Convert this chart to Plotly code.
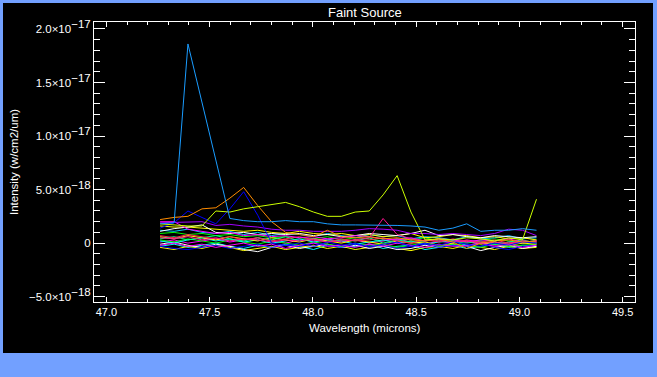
import plotly.graph_objects as go

# ---------------- data (intensity in units of 1e-18 W/cm2/um) ----------------
wavelength = [47.260, 47.328, 47.395, 47.463, 47.530, 47.598, 47.665, 47.733,
              47.800, 47.868, 47.935, 48.003, 48.070, 48.138, 48.205, 48.273,
              48.340, 48.408, 48.475, 48.543, 48.610, 48.678, 48.745, 48.813,
              48.880, 48.948, 49.015, 49.083]

x_tick_vals = [47.0, 47.5, 48.0, 48.5, 49.0, 49.5]
x_tick_text = ["47.0", "47.5", "48.0", "48.5", "49.0", "49.5"]
y_tick_vals = [-5e-18, 0, 5e-18, 1e-17, 1.5e-17, 2e-17]
SUP = "<sup><span style='font-size:11.5px'>%s</span></sup>"
y_tick_text = ["−5.0×10" + SUP % "−18", "0", "5.0×10" + SUP % "−18",
               "1.0×10" + SUP % "−17", "1.5×10" + SUP % "−17", "2.0×10" + SUP % "−17"]

green_a = [0.9, 1.0, 0.8, 0.9, 0.7, 0.8, 0.6, 0.7, 0.5, 0.6, 0.5, 0.4, 0.6, 0.3, 0.5, 0.4, 0.2, 0.4, 0.3, 0.5, 0.2, 0.3, 0.1, 0.3, 0.4, 0.2, 0.0, 0.3]
green_b = [0.3, 0.1, 0.4, 0.2, 0.0, 0.3, 0.1, -0.1, 0.2, 0.0, -0.2, 0.1, -0.1, -0.3, 0.0, -0.2, -0.1, -0.4, -0.2, 0.0, -0.3, -0.1, -0.2, -0.4, -0.1, -0.3, -0.2, -0.1]
cyan_a = [0.2, 0.0, 0.3, 0.5, 0.2, 0.4, 0.1, 0.3, 0.0, 0.2, 0.4, 0.1, 0.3, 0.2, -0.1, 0.1, 0.3, 0.0, 0.2, -0.1, 0.1, 0.2, -0.2, 0.0, 0.1, -0.1, 0.2, 0.0]
cyan_b = [-0.3, -0.1, -0.4, -0.2, 0.0, -0.3, -0.5, -0.2, -0.4, -0.1, -0.3, -0.6, -0.2, -0.4, -0.3, -0.1, -0.5, -0.3, -0.2, -0.6, -0.4, -0.2, -0.5, -0.3, -0.1, -0.4, -0.2, -0.3]
magenta_b = [0.1, 0.3, 0.0, 0.2, 0.4, 0.1, 0.3, 0.5, 0.2, 0.0, 0.3, 0.2, 0.4, 0.1, 0.3, 0.0, 0.2, 0.4, 0.1, -0.1, 0.2, 0.0, 0.3, 0.1, -0.2, 0.1, 0.0, 0.2]
magenta_c = [-0.2, 0.0, -0.3, -0.1, -0.4, -0.2, 0.0, -0.3, -0.1, -0.5, -0.2, 0.0, -0.3, -0.2, -0.4, -0.1, -0.3, 0.0, -0.2, -0.4, -0.1, -0.3, -0.2, 0.0, -0.3, -0.1, -0.4, -0.2]
yellow_b = [-0.4, -0.6, -0.3, -0.5, -0.2, -0.4, -0.7, -0.5, -0.3, -0.6, -0.4, -0.2, -0.5, -0.3, -0.6, -0.4, -0.2, -0.5, -0.7, -0.4, -0.3, -0.5, -0.2, -0.4, -0.6, -0.3, -0.5, -0.4]
yellow_c = [0.6, 0.4, 0.7, 0.5, 0.3, 0.6, 0.4, 0.2, 0.5, 0.3, 0.1, 0.4, 0.2, 0.0, 0.3, 0.1, -0.1, 0.2, 0.0, 0.1, -0.2, 0.0, 0.2, -0.1, 0.1, -0.2, 0.0, -0.1]
white_b = [-0.1, 0.1, -0.2, -0.4, -0.1, -0.3, -0.6, -0.8, -0.4, -0.2, -0.5, -0.3, -0.1, -0.4, -0.2, -0.5, -0.3, -0.6, -0.5, -0.2, -0.4, -0.1, -0.3, -0.7, -0.4, -0.2, -0.5, -0.3]
blue_low = [-0.3, -0.5, -0.6, -0.4, -0.2, -0.5, -0.3, -0.1, -0.4, -0.2, -0.3, 0.0, -0.2, -0.4, -0.1, -0.3, -0.2, -0.5, -0.3, -0.1, -0.4, -0.2, -0.3, 0.0, -0.4, -0.6, -0.3, -0.2]
spring_green = [0.4, 0.6, 0.3, 0.5, 0.7, 0.4, 0.2, 0.5, 0.3, 0.6, 0.2, 0.4, 0.1, 0.3, 0.2, 0.5, 0.0, 0.3, 0.1, 0.2, 0.4, 0.1, 0.0, 0.2, -0.1, 0.1, 0.3, 0.0]
red_a = [0.7, 0.5, 0.8, 0.6, 0.4, 0.6, 0.3, 0.5, 0.2, 0.4, 0.6, 0.3, 0.1, 0.4, 0.2, 0.3, 0.5, 0.2, 0.0, 0.3, 0.1, 0.4, 0.2, 0.1, 0.3, 0.0, 0.2, 0.1]
sky_b = [1.2, 1.1, 1.3, 1.0, 0.9, 1.1, 0.8, 1.0, 0.7, 0.9, 0.8, 0.6, 0.9, 0.7, 0.5, 0.8, 0.6, 0.7, 0.4, 0.6, 0.5, 0.3, 0.6, 0.4, 0.5, 0.7, 0.4, 0.5]
yellow_a = [1.6, 1.5, 1.5, 1.4, 1.3, 1.2, 1.1, 1.2, 1.0, 0.9, 1.1, 0.9, 0.8, 0.9, 0.7, 0.8, 0.6, 0.7, 0.9, 0.5, 0.6, 0.8, 0.7, 0.5, 0.6, 0.4, 0.5, 0.3]
white_a = [1.1, 1.35, 1.5, 1.7, 1.0, 0.9, 1.0, 0.8, 0.9, 0.8, 0.9, 0.7, 0.8, 0.6, 0.7, 0.9, 0.8, 0.7, 0.9, 1.2, 0.7, 0.8, 0.6, 0.5, 0.7, 0.6, 0.5, 0.6]
magenta_a = [2.0, 2.0, 1.3, 1.1, 0.9, 1.0, 0.7, 0.8, 0.6, 0.7, 0.5, 0.6, 0.4, 0.5, 0.7, 0.6, 0.4, 0.3, 0.5, 0.2, 0.4, 0.3, 0.1, 0.3, 0.2, 0.4, 0.1, 0.2]
pink_spike = [0.5, 0.4, 0.6, 0.3, 0.5, 0.2, 0.4, 0.3, 0.1, 0.3, 0.2, 0.4, 0.1, 0.2, 0.3, 0.5, 2.3, 0.8, 0.4, 0.2, 0.3, 0.1, 0.2, 0.0, 0.1, -0.1, 0.2, 0.1]
purple_a = [1.9, 1.95, 2.0, 2.0, 1.65, 1.75, 1.6, 1.5, 1.3, 1.2, 1.2, 1.1, 1.1, 1.1, 1.2, 1.35, 1.3, 1.2, 0.9, 0.9, 0.8, 0.9, 0.8, 0.7, 0.9, 1.3, 1.2, 0.7]
blue_bump = [1.4, 1.9, 3.0, 2.4, 1.8, 3.2, 4.8, 2.6, 0.0, -0.2, 0.0, -0.3, 0.1, -0.2, 0.0, -0.4, -0.1, 0.1, -0.3, 0.0, -0.2, 0.1, -0.1, -0.3, 0.0, -0.2, 0.1, 0.0]
orange_a = [2.2, 2.4, 2.5, 3.2, 3.3, 4.2, 5.2, 3.5, 2.0, 1.0, 0.8, 0.6, 1.2, 0.6, 0.5, 0.6, 0.4, 0.5, 0.3, 0.2, 0.4, 0.1, -0.5, 0.0, 0.2, 0.3, 0.1, 0.2]
yellow_green = [1.8, 1.7, 1.6, 1.6, 3.0, 2.9, 3.2, 3.4, 3.6, 3.8, 3.4, 2.9, 2.5, 2.5, 2.9, 3.0, 4.5, 6.3, 2.9, 0.3, 0.4, 0.3, 0.5, 0.4, 0.2, 0.5, 0.3, 4.1]
light_blue = [1.8, 1.9, 18.6, 13.2, 7.7, 2.3, 2.1, 2.0, 2.0, 2.1, 2.0, 2.0, 1.8, 1.7, 1.7, 1.7, 1.7, 1.65, 1.6, 1.5, 1.2, 1.4, 1.8, 1.1, 1.2, 1.2, 1.35, 1.2]

series = [
    (green_a, "#00ff00"), (cyan_b, "#00ffff"), (yellow_b, "#ffff00"),
    (magenta_b, "#ff00ff"), (white_b, "#ffffff"), (green_b, "#00ff00"),
    (cyan_a, "#00ffff"), (blue_low, "#0000ff"), (yellow_c, "#ffff00"),
    (magenta_c, "#ff00ff"), (spring_green, "#00ff7f"), (red_a, "#ff2050"),
    (sky_b, "#00c8ff"), (yellow_a, "#ffff00"), (white_a, "#ffffff"),
    (magenta_a, "#ff00ff"), (pink_spike, "#ff1493"), (purple_a, "#a000ff"),
    (blue_bump, "#0000ff"), (orange_a, "#ff8c00"), (yellow_green, "#ccff00"),
    (light_blue, "#1a9cff"),
]

SCALE = 1e-18

fig = go.Figure()
for vals, col in series:
    fig.add_trace(go.Scatter(x=wavelength, y=[v * SCALE for v in vals], mode="lines",
                             line=dict(color=col, width=1), hoverinfo="skip"))

# plot-area pixel geometry: x 94..635, y 22..302 in a 657x377 page
L, R, T, B = 94, 635, 22, 302
W, H = R - L, B - T
def px(x):
    return (x - L) / W
def py(y):
    return (B - y) / H

font = "Liberation Sans, Arial, sans-serif"
axis_common = dict(showline=True, linecolor="white", linewidth=1, mirror="ticks",
                   ticks="inside", tickcolor="white", tickwidth=1,
                   showgrid=False, zeroline=False)

fig.update_layout(
    width=657, height=377,
    margin=dict(l=L, r=657 - R, t=T, b=377 - B, pad=0),
    paper_bgcolor="#72a0ff", plot_bgcolor="black",
    showlegend=False,
    xaxis=dict(range=[46.94, 49.56], tickmode="array", tickvals=x_tick_vals,
               ticktext=x_tick_text, ticklen=5,
               tickfont=dict(color="white", size=11, family=font),
               minor=dict(tickmode="linear", tick0=47.0, dtick=0.1, ticks="inside",
                          ticklen=3, tickcolor="white", showgrid=False),
               **axis_common),
    yaxis=dict(range=[-5.5e-18, 2.065e-17], tickmode="array", tickvals=y_tick_vals,
               ticktext=y_tick_text, ticklen=11,
               tickfont=dict(color="white", size=11.5, family=font),
               minor=dict(tickmode="linear", tick0=0, dtick=1e-18, ticks="inside",
                          ticklen=6, tickcolor="white", showgrid=False),
               **axis_common),
    shapes=[dict(type="rect", xref="paper", yref="paper", layer="below",
                 x0=px(3), x1=px(653), y0=py(353), y1=py(3),
                 fillcolor="black", line=dict(width=0))],
    annotations=[
        dict(text="Faint Source", xref="paper", yref="paper", x=0.5, y=py(13),
             xanchor="center", yanchor="middle", showarrow=False,
             font=dict(color="white", size=13, family=font)),
        dict(text="Wavelength (microns)", xref="paper", yref="paper", x=0.5, y=py(328),
             xanchor="center", yanchor="middle", showarrow=False,
             font=dict(color="white", size=11.5, family=font)),
        dict(text="Intensity (w/cm2/um)", xref="paper", yref="paper", x=px(14), y=0.5,
             xanchor="center", yanchor="middle", showarrow=False, textangle=-90,
             font=dict(color="white", size=11.5, family=font)),
    ],
)

fig.write_html("out.html", config={"displayModeBar": False},
               post_script="document.body.style.margin='0px';document.body.style.overflow='hidden';")
